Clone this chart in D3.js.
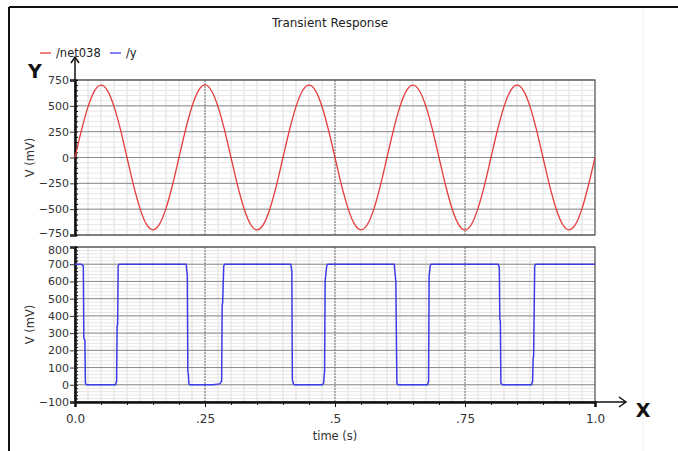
<!DOCTYPE html>
<html>
<head>
<meta charset="utf-8">
<script src="https://cdn.jsdelivr.net/npm/d3@7"></script>
<style>
  body { margin: 0; background: #fff; }
  svg text { font-family: "DejaVu Sans", sans-serif; }
</style>
</head>
<body>
<svg width="678" height="451"></svg>
<script>
(function () {
  'use strict';

  // sine /net038, sampled every 12.5 ms
  var netStep = 0.0125;
  var netValues = [
    0, 265, 490, 645, 700, 648, 495, 270, 0, -268, -495, -648, -700, -645, -492, -266,
    0, 268, 494, 648, 702, 646, 492, 268, 0, -266, -494, -646, -701, -648, -494, -268,
    0, 266, 492, 646, 700, 648, 494, 266, 0, -268, -492, -645, -700, -646, -495, -266,
    0, 268, 495, 648, 701, 646, 492, 268, 0, -266, -494, -648, -702, -646, -492, -268,
    0, 266, 492, 645, 700, 648, 495, 268, 0, -268, -494, -646, -700, -648, -495, -266,
    0
  ];

  // square /y
  var yTime = [
    0, 0.012, 0.016, 0.017, 0.019, 0.020, 0.022,
    0.078, 0.080, 0.081, 0.082, 0.083, 0.085,
    0.214, 0.215, 0.216, 0.217, 0.218, 0.219, 0.221,
    0.265, 0.278, 0.282, 0.283, 0.284, 0.286, 0.288,
    0.415, 0.417, 0.418, 0.420, 0.422,
    0.476, 0.478, 0.480, 0.481, 0.484, 0.486,
    0.614, 0.616, 0.617, 0.619, 0.621,
    0.678, 0.680, 0.681, 0.683, 0.685,
    0.814, 0.816, 0.817, 0.818, 0.819, 0.822,
    0.878, 0.880, 0.881, 0.882, 0.884, 0.886,
    1.0
  ];
  var yValues = [
    700, 700, 690, 270, 260, 10, 0,
    0, 20, 340, 350, 690, 700,
    700, 660, 640, 80, 60, 5, 0,
    0, 5, 20, 460, 480, 690, 700,
    700, 660, 30, 5, 0,
    0, 10, 80, 600, 690, 700,
    700, 630, 600, 10, 0,
    0, 20, 630, 690, 700,
    700, 680, 380, 370, 10, 0,
    0, 20, 150, 170, 690, 700,
    700
  ];

  var xTicks = [0, 0.25, 0.5, 0.75, 1.0];
  var xTickLabels = ['0.0', '.25', '.5', '.75', '1.0'];
  var topTicks = [-750, -500, -250, 0, 250, 500, 750];
  var bottomTicks = [-100, 0, 100, 200, 300, 400, 500, 600, 700, 800];

  var svg = d3.select('svg');
  var left = 75, right = 595;

  var x = d3.scaleLinear().domain([0, 1]).range([left, right]);
  var yTop = d3.scaleLinear().domain([-750, 750]).range([235, 80]);
  var yBot = d3.scaleLinear().domain([-100, 800]).range([402, 247]);

  // frame
  svg.append('line').attr('x1', 9).attr('y1', 7).attr('x2', 678).attr('y2', 7)
    .attr('stroke', '#111').attr('stroke-width', 2);
  svg.append('line').attr('x1', 9).attr('y1', 7).attr('x2', 9).attr('y2', 451)
    .attr('stroke', '#111').attr('stroke-width', 2);
  svg.append('line').attr('x1', 643).attr('y1', 8).attr('x2', 643).attr('y2', 451)
    .attr('stroke', '#eee').attr('stroke-width', 1);

  svg.append('text').attr('x', 330).attr('y', 27).attr('text-anchor', 'middle')
    .attr('font-size', 12).attr('fill', '#222').text('Transient Response');

  // legend
  var legend = [{ name: '/net038', color: '#e53b3b', x: 40 }, { name: '/y', color: '#3b3be8', x: 110 }];
  legend.forEach(function (d) {
    svg.append('line').attr('x1', d.x).attr('x2', d.x + 11).attr('y1', 53).attr('y2', 53)
      .attr('stroke', d.color).attr('stroke-width', 1.3);
    svg.append('text').attr('x', d.x + 16).attr('y', 57).attr('font-size', 11.5)
      .attr('fill', '#222').text(d.name);
  });

  function panel (y, ticks, minorStep, edgeShift) {
    var g = svg.append('g');
    var y0 = y.range()[0], y1 = y.range()[1];
    var d = y.domain();
    g.append('rect').attr('x', left).attr('y', y1).attr('width', right - left)
      .attr('height', y0 - y1).attr('fill', '#fff');
    // minor grid
    var minorV = d3.range(0, 1.0001, 0.025);
    g.selectAll('.mv').data(minorV).enter().append('line')
      .attr('x1', x).attr('x2', x).attr('y1', y0).attr('y2', y1)
      .attr('stroke', '#dcdcdc').attr('stroke-width', 1);
    var minorH = d3.range(d[0], d[1] + 0.001, minorStep);
    g.selectAll('.mh').data(minorH).enter().append('line')
      .attr('x1', left).attr('x2', right).attr('y1', y).attr('y2', y)
      .attr('stroke', '#e6e6e6').attr('stroke-width', 1);
    // major grid
    g.selectAll('.Mh').data(ticks).enter().append('line')
      .attr('x1', left).attr('x2', right).attr('y1', y).attr('y2', y)
      .attr('stroke', '#8a8a8a').attr('stroke-width', 1);
    g.selectAll('.Mv').data([0.25, 0.5, 0.75]).enter().append('line')
      .attr('x1', x).attr('x2', x).attr('y1', y0).attr('y2', y1)
      .attr('stroke', '#777').attr('stroke-width', 1).attr('stroke-dasharray', '2,1');
    g.append('rect').attr('x', left).attr('y', y1).attr('width', right - left)
      .attr('height', y0 - y1).attr('fill', 'none').attr('stroke', '#555').attr('stroke-width', 1.2);

    // left axis
    var axis = d3.axisLeft(y).tickValues(ticks).tickSize(5).tickPadding(1)
      .tickFormat(d3.format('d'));
    var ga = g.append('g').attr('transform', 'translate(' + left + ',0)').call(axis);
    ga.select('.domain').attr('stroke', '#111').attr('stroke-width', 2.5);
    ga.selectAll('.tick line').attr('stroke', '#333');
    ga.selectAll('text').attr('font-size', 11).attr('fill', '#333')
      .attr('font-family', '"DejaVu Sans", sans-serif')
      .text(function (v) { return v < 0 ? '\u2212' + Math.abs(v) : v; });
    // nudge the label at the panel edge that meets the other panel
    ga.selectAll('text').filter(function (v) { return v === edgeShift.value; })
      .attr('dy', edgeShift.dy);
    var minorAxis = d3.axisLeft(y).tickValues(minorH).tickSize(-3).tickFormat('');
    var gm = g.append('g').attr('transform', 'translate(' + left + ',0)').call(minorAxis);
    gm.select('.domain').remove();
    gm.selectAll('.tick line').attr('stroke', '#111');

    g.append('text').attr('transform', 'translate(34,' + ((y0 + y1) / 2) + ') rotate(-90)')
      .attr('text-anchor', 'middle').attr('font-size', 11.5).attr('fill', '#333').text('V (mV)');
    return g;
  }

  panel(yTop, topTicks, 50, { value: -750, dy: '0.1em' });
  panel(yBot, bottomTicks, 20, { value: 800, dy: '0.55em' });

  // bottom x axis
  var xAxis = d3.axisBottom(x).tickValues(xTicks).tickSize(5).tickPadding(7)
    .tickFormat(function (v, i) { return xTickLabels[i]; });
  var gx = svg.append('g').attr('transform', 'translate(0,402)').call(xAxis);
  gx.select('.domain').attr('stroke', '#111').attr('stroke-width', 2.5);
  gx.selectAll('text').attr('font-size', 12).attr('fill', '#333')
    .attr('font-family', '"DejaVu Sans", sans-serif');
  var xMinor = d3.axisBottom(x).tickValues(d3.range(0, 1.0001, 0.05)).tickSize(3).tickFormat('');
  var gxm = svg.append('g').attr('transform', 'translate(0,402)').call(xMinor);
  gxm.select('.domain').remove();
  gxm.selectAll('.tick line').attr('stroke', '#111');

  svg.append('text').attr('x', 335).attr('y', 440).attr('text-anchor', 'middle')
    .attr('font-size', 11.5).attr('fill', '#333').text('time (s)');

  // traces
  var netLine = d3.line().curve(d3.curveMonotoneX)
    .x(function (v, i) { return x(i * netStep); }).y(function (v) { return yTop(v); });
  svg.append('path').datum(netValues).attr('d', netLine).attr('fill', 'none')
    .attr('stroke', '#e53b3b').attr('stroke-width', 1.3);

  var sqLine = d3.line().x(function (v, i) { return x(yTime[i]); }).y(function (v) { return yBot(v); });
  svg.append('path').datum(yValues).attr('d', sqLine).attr('fill', 'none')
    .attr('stroke', '#3b3be8').attr('stroke-width', 1.5);

  // X / Y arrows
  function arrow (x1, y1, x2, y2, dir) {
    svg.append('line').attr('x1', x1).attr('y1', y1).attr('x2', x2).attr('y2', y2)
      .attr('stroke', '#111').attr('stroke-width', 1.5);
    var p = dir === 'up'
      ? [[x2 - 4, y2 + 6], [x2, y2], [x2 + 4, y2 + 6]]
      : [[x2 - 7, y2 - 5], [x2, y2], [x2 - 7, y2 + 5]];
    svg.append('path').attr('d', d3.line()(p)).attr('fill', 'none')
      .attr('stroke', '#111').attr('stroke-width', 1.5);
  }
  arrow(75, 80, 75, 57, 'up');
  arrow(595, 402, 626, 402, 'right');

  svg.append('text').attr('x', 35).attr('y', 78).attr('text-anchor', 'middle')
    .attr('font-size', 19).attr('font-weight', 'bold').attr('font-family', 'Arial, "Liberation Sans", sans-serif')
    .attr('fill', '#111').text('Y');
  svg.append('text').attr('x', 643).attr('y', 417).attr('text-anchor', 'middle')
    .attr('font-size', 19).attr('font-weight', 'bold').attr('font-family', 'Arial, "Liberation Sans", sans-serif')
    .attr('fill', '#111').text('X');
})();
</script>
</body>
</html>
